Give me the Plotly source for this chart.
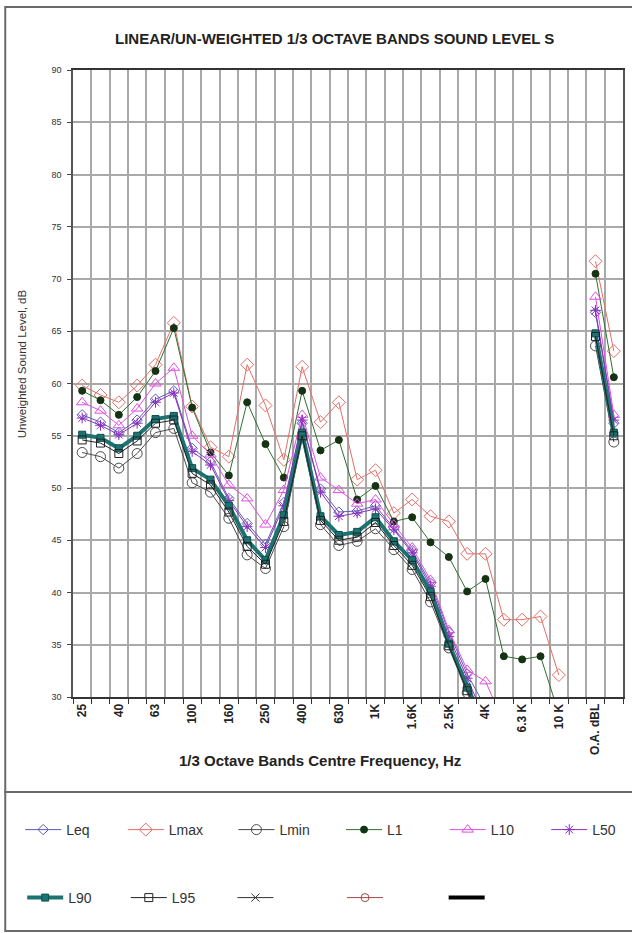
import plotly.graph_objects as go

categories = ["25", "31.5", "40", "50", "63", "80", "100", "125", "160", "200",
              "250", "315", "400", "500", "630", "800", "1K", "1.25K", "1.6K", "2K",
              "2.5K", "3.15K", "4K", "5K", "6.3K", "8K", "10K", "12.5K", "O.A. dBL", "O.A. dBA"]
tick_labels = ["25", "", "40", "", "63", "", "100", "", "160", "",
               "250", "", "400", "", "630", "", "1K", "", "1.6K", "",
               "2.5K", "", "4K", "", "6.3 K", "", "10 K", "", "O.A. dBL", ""]

N = None
Leq = [57.0, 56.3, 55.3, 56.5, 58.5, 59.3, 53.8, 52.5, 49.0, 46.6, 44.6, 48.6, 56.2, 49.9, 47.7,
       47.8, 48.3, 46.2, 44.0, 40.9, 36.2, 32.2, 29.0, N, N, N, N, N, 66.8, 56.2]
Lmax = [59.8, 58.9, 58.2, 59.8, 61.8, 65.8, 57.8, 53.9, 53.0, 61.8, 57.9, 52.7, 61.6, 56.3, 58.2,
        50.8, 51.7, 47.6, 48.9, 47.3, 46.8, 43.7, 43.7, 37.4, 37.4, 37.7, 32.1, N, 71.7, 63.1]
Lmin = [53.4, 53.0, 51.9, 53.3, 55.3, 55.7, 50.5, 49.6, 47.1, 43.6, 42.3, 46.3, 54.8, 46.5, 44.5,
        44.9, 46.1, 44.1, 42.2, 39.1, 34.7, 30.4, 26.5, N, N, N, N, N, 63.6, 54.4]
L1 = [59.3, 58.4, 57.0, 58.7, 61.2, 65.3, 57.7, 53.4, 51.2, 58.2, 54.2, 51.0, 59.3, 53.6, 54.6,
      48.9, 50.2, 46.8, 47.2, 44.8, 43.4, 40.1, 41.3, 33.9, 33.6, 33.9, 28.4, N, 70.5, 60.6]
L10 = [58.2, 57.4, 56.0, 57.6, 60.0, 61.5, 55.0, 53.2, 50.3, 49.0, 46.5, 49.8, 57.0, 51.0, 49.8,
       48.5, 48.9, 46.5, 44.3, 41.2, 36.4, 32.6, 31.5, 27.5, N, N, N, N, 68.3, 57.0]
L50 = [56.7, 56.0, 55.1, 56.2, 58.2, 59.1, 53.5, 52.2, 48.8, 46.3, 44.3, 48.3, 56.5, 49.6, 47.3,
       47.6, 48.0, 46.0, 43.8, 40.6, 35.8, 31.8, 27.8, N, N, N, N, N, 67.0, 56.5]
L90 = [55.1, 54.8, 53.8, 55.0, 56.6, 56.9, 51.9, 50.8, 48.3, 45.0, 43.1, 47.4, 55.3, 47.3, 45.5,
       45.8, 47.2, 44.9, 43.1, 40.1, 35.1, 30.9, 27.0, N, N, N, N, N, 64.8, 55.3]
L95 = [54.6, 54.3, 53.3, 54.5, 56.2, 56.5, 51.4, 50.3, 47.7, 44.4, 42.7, 46.8, 55.0, 46.9, 45.0,
       45.3, 46.7, 44.5, 42.6, 39.6, 34.9, 30.6, 26.8, N, N, N, N, N, 64.5, 55.0]
empty = [N] * len(categories)

W, H = 632, 933
L, R, T, B = 73, 7, 70, 236
PW, PH = W - L - R, H - T - B


def px(x):
    return (x - L) / PW


def py(y):
    return (H - B - y) / PH


FONT = "Liberation Sans, Arial, sans-serif"
LEGFONT = dict(family=FONT, size=14, color="#333")

fig = go.Figure()
legend_layout = {}


def add(name, y, color, symbol, size, lx, ly, key, width=1, mcolor=None, mline=None):
    fig.add_trace(go.Scatter(
        x=categories, y=y, name=name, mode="lines+markers" if symbol else "lines",
        line=dict(color=color, width=width),
        marker=dict(symbol=symbol or "circle", size=size, color=mcolor or color,
                    line=dict(color=mline or color, width=1)),
        legend=key, connectgaps=False))
    legend_layout[key] = dict(orientation="h", x=px(lx - 1), xanchor="left",
                              y=py(ly), yanchor="middle", itemwidth=36,
                              font=LEGFONT, bgcolor="rgba(0,0,0,0)")


add("Leq", Leq, "#5b5bb5", "diamond-open", 8, 21, 830, "legend")
add("Lmax", Lmax, "#e36f66", "diamond-open", 10, 124, 830, "legend2")
add("Lmin", Lmin, "#4a4a4a", "circle-open", 10, 235, 830, "legend3")
add("L1", L1, "#2f6f2f", "circle", 7, 343, 830, "legend4", mcolor="#143214", mline="#143214")
add("L10", L10, "#e04fe0", "triangle-up-open", 10, 447, 830, "legend5")
add("L50", L50, "#8b2fc0", "asterisk-open", 9, 549, 830, "legend6")
add("L90", L90, "#1d7272", "square", 7, 23, 898, "legend7", width=4, mcolor="#1d7272", mline="#0f4f4f")
add("L95", L95, "#222222", "square-open", 8, 127, 898, "legend8")
add(" ", empty, "#333333", "x-thin-open", 8, 234, 898, "legend9")
add("  ", empty, "#a04848", "circle-open", 8, 344, 898, "legend10")
add("   ", empty, "#000000", None, 0, 446, 898, "legend11", width=4)

grid = "#a9a9a9"
fig.update_layout(
    width=W, height=H, margin=dict(l=L, r=R, t=T, b=B),
    paper_bgcolor="white", plot_bgcolor="white",
    font=dict(family=FONT, color="#222"),
    xaxis=dict(type="category", categoryorder="array", categoryarray=categories,
               tickmode="array", tickvals=categories, ticktext=tick_labels,
               tickson="boundaries", ticks="outside", ticklen=5, tickcolor="#333",
               showgrid=True, gridcolor=grid, gridwidth=1.5,
               showline=True, linecolor="#333", linewidth=2, mirror=True,
               tickangle=-90, range=[-0.5, 29.5],
               tickfont=dict(family=FONT, size=12, color="#222", weight="bold")),
    yaxis=dict(range=[30, 90], dtick=5, tick0=30, ticks="outside", ticklen=4, tickcolor="#444",
               showgrid=True, gridcolor=grid, gridwidth=1.5,
               showline=True, linecolor="#555", linewidth=1.5, mirror=True,
               ticklabelstandoff=4,
               tickfont=dict(family=FONT, size=9, color="#333")),
    showlegend=True,
    **legend_layout,
)

fig.add_annotation(text="LINEAR/UN-WEIGHTED 1/3 OCTAVE BANDS SOUND LEVEL S", xref="paper", yref="paper",
                   x=px(335), y=py(38), xanchor="center", yanchor="middle", showarrow=False,
                   font=dict(family=FONT, size=15, color="#222", weight="bold"))
fig.add_annotation(text="Unweighted Sound Level, dB", xref="paper", yref="paper",
                   x=px(22), y=py(364), xanchor="center", yanchor="middle", showarrow=False,
                   textangle=-90, font=dict(family=FONT, size=11.5, color="#333"))
fig.add_annotation(text="1/3 Octave Bands Centre Frequency, Hz", xref="paper", yref="paper",
                   x=px(321), y=py(760), xanchor="center", yanchor="middle", showarrow=False,
                   font=dict(family=FONT, size=15, color="#222", weight="bold"))

frame = dict(color="#6a6a6a", width=2)
fig.add_shape(type="rect", xref="paper", yref="paper", x0=px(5), x1=px(645), y0=py(7), y1=py(792),
              line=frame, layer="below")
fig.add_shape(type="rect", xref="paper", yref="paper", x0=px(5), x1=px(645), y0=py(792), y1=py(931),
              line=frame, layer="below")

fig.write_html("out.html")
